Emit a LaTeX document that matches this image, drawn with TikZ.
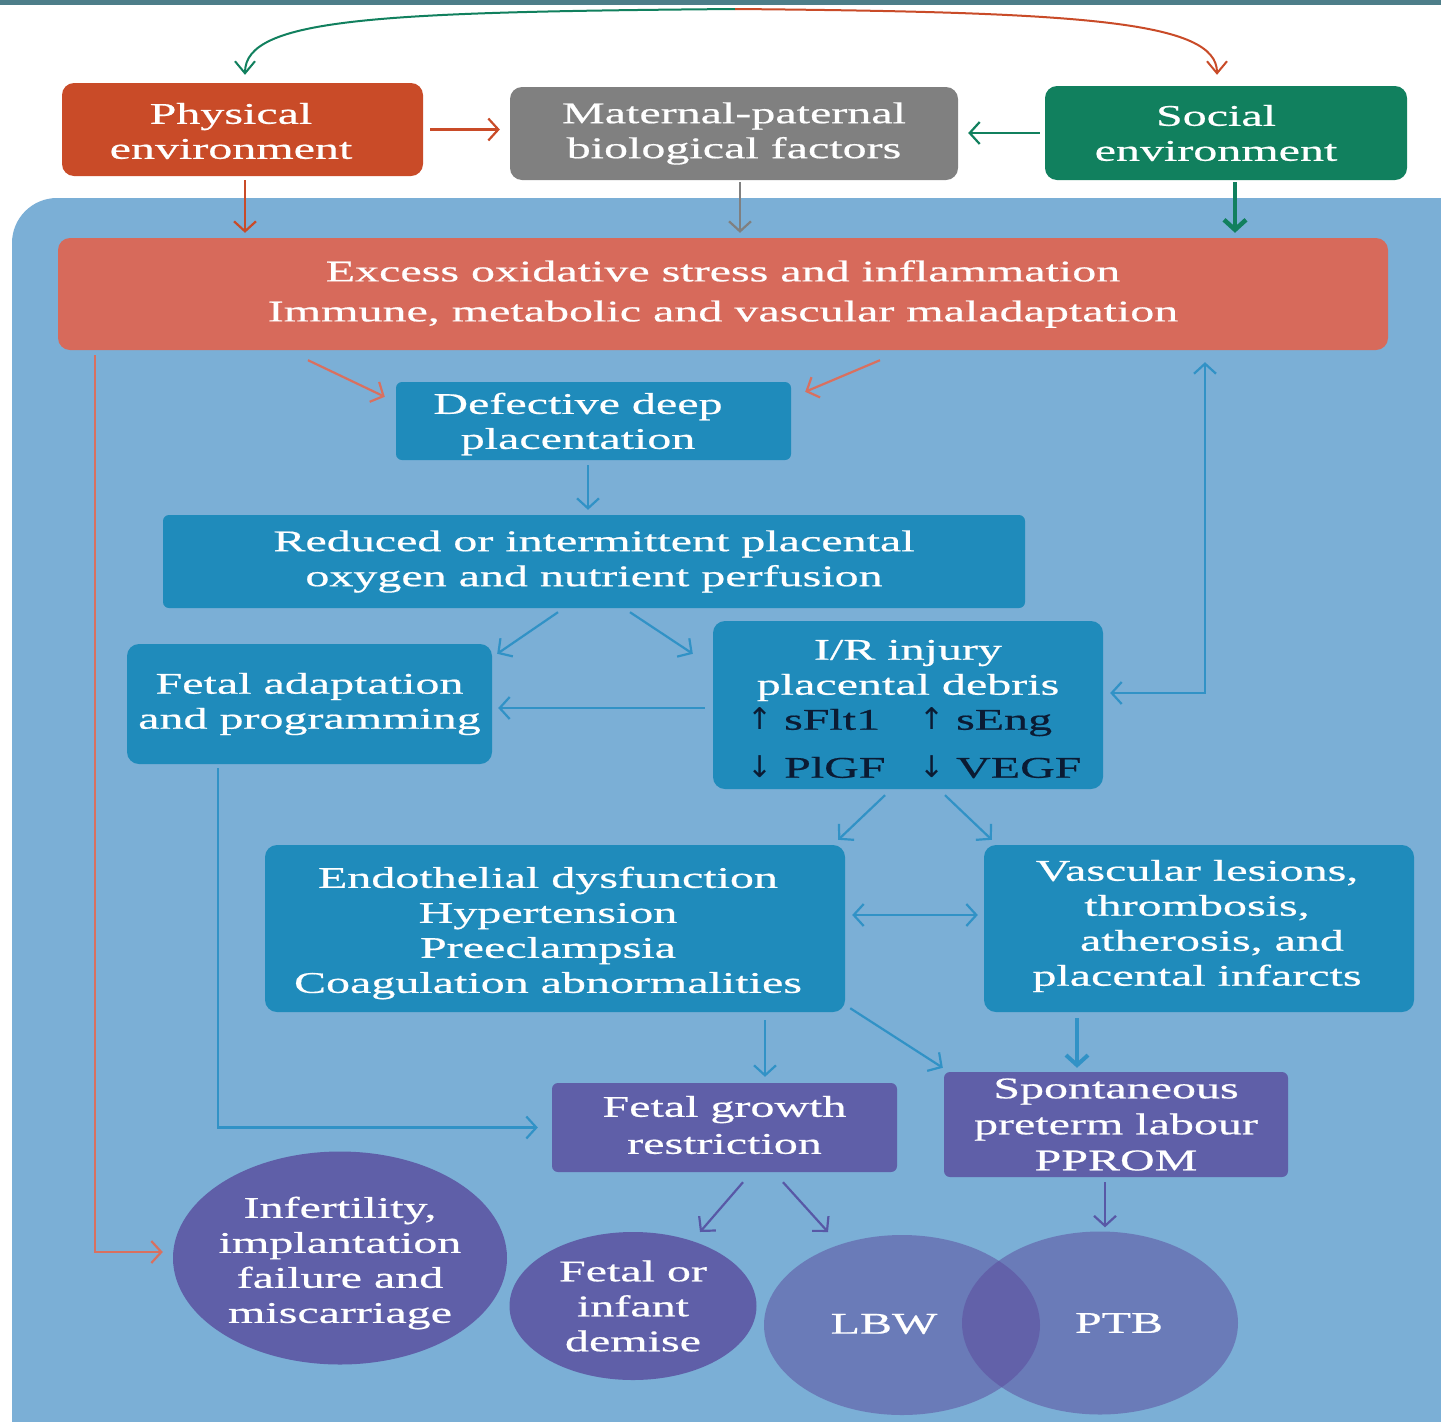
\documentclass[tikz,border=0pt]{standalone}
\usepackage{fontspec}
\setmainfont{Liberation Serif}[FakeStretch=1.6,FakeBold=0.6]
\newfontfamily\arrowfont{DejaVu Sans}
\usetikzlibrary{arrows.meta,calc,shapes.geometric}

\definecolor{topbar}{HTML}{4D7E89}
\definecolor{physred}{HTML}{C94B28}
\definecolor{matgray}{HTML}{808080}
\definecolor{socgreen}{HTML}{11805E}
\definecolor{panelblue}{HTML}{7BAFD6}
\definecolor{excred}{HTML}{D76A5B}
\definecolor{boxblue}{HTML}{1F8BBB}
\definecolor{boxpurple}{HTML}{5F5FA8}
\definecolor{vennpurple}{RGB}{91,72,156}
\definecolor{linkblue}{HTML}{3192C6}
\definecolor{linkred}{HTML}{D9705F}
\definecolor{linkpurple}{HTML}{5858A6}
\definecolor{marker}{HTML}{0B1B33}

\begin{document}
\begin{tikzpicture}[x=1pt,y=-1pt,
  box/.style={rounded corners=12pt, inner sep=0pt, text=white, align=center,
    font=\fontsize{30}{35}\selectfont},
  oval/.style={ellipse, inner sep=0pt, text=white, align=center,
    font=\fontsize{30}{35}\selectfont},
  label/.style={inner sep=0pt, text=white, align=center,
    font=\fontsize{30}{35}\selectfont},
  tip/.style={-{Straight Barb[length=10pt,width=22pt]}},
  link/.style={tip, line width=2.2pt},
  bilink/.style={{Straight Barb[length=10pt,width=22pt]}-{Straight Barb[length=10pt,width=22pt]}, line width=2.2pt},
  arc/.style={-{Straight Barb[length=12pt,width=20pt]}, line width=2pt}
]
\useasboundingbox (0,0) rectangle (1441,1422);
\clip (0,0) rectangle (1441,1422);
\fill[white] (0,0) rectangle (1441,1422);
\fill[topbar] (0,0) rectangle (1441,5);

% large background panel
\fill[panelblue, rounded corners=45pt] (12,198) rectangle (1500,1480);

% outcome circles
\node[oval, fill=vennpurple, fill opacity=0.5,
  minimum width=276pt, minimum height=180pt] (lbw) at (902,1325) {};
\node[oval, fill=vennpurple, fill opacity=0.5,
  minimum width=276pt, minimum height=183pt] (ptb) at (1100,1323) {};
\node[label] (lbwtext) at (884,1324) {LBW};
\node[label] (ptbtext) at (1119,1323) {PTB};
\node[oval, fill=boxpurple, minimum width=334pt, minimum height=213pt] (inf)
  at (340,1258) {};
\node[label] (inftext) at (340,1263) {Infertility,\\implantation\\failure and\\miscarriage};
\node[oval, fill=boxpurple, minimum width=247pt, minimum height=148pt] (fid)
  at (633,1306) {Fetal or\\infant\\demise};

% determinants
\node[box, fill=physred, minimum width=361pt, minimum height=93pt] (phys)
  at (242.5,129.5) {};
\node[label] (phystext) at (231,131) {Physical\\environment};
\node[box, fill=matgray, minimum width=448pt, minimum height=93pt] (mat)
  at (734,133.5) {Maternal-paternal\\biological factors};
\node[box, fill=socgreen, minimum width=362pt, minimum height=94pt] (soc)
  at (1226,133) {};
\node[label] (soctext) at (1216,133) {Social\\environment};

% mechanisms
\node[box, fill=excred, minimum width=1330pt, minimum height=112pt,
  font=\fontsize{30}{40}\selectfont] (exc)
  at (723,294) {Excess oxidative stress and inflammation\\Immune, metabolic and vascular maladaptation};
\node[box, rounded corners=6pt, fill=boxblue, minimum width=395pt, minimum height=78pt] (def)
  at (593.5,421) {};
\node[label] (deftext) at (578,424) {Defective deep\\placentation};
\node[box, rounded corners=6pt, fill=boxblue, minimum width=862pt, minimum height=93pt] (red)
  at (594,561.5) {Reduced or intermittent placental\\oxygen and nutrient perfusion};
\node[box, fill=boxblue, minimum width=365pt, minimum height=120pt] (fad)
  at (309.5,704) {Fetal adaptation\\and programming};
\node[box, fill=boxblue, minimum width=390pt, minimum height=168pt] (ir)
  at (908,705) {};
\node[label] (irtext) at (908,709) {I/R injury\\placental debris\\
  \color{marker}\makebox[172pt][l]{{\arrowfont ↑} sFlt1}\makebox[150pt][l]{{\arrowfont ↑} sEng}\\[13pt]
  \color{marker}\makebox[172pt][l]{{\arrowfont ↓} PlGF}\makebox[150pt][l]{{\arrowfont ↓} VEGF}};
\node[box, fill=boxblue, minimum width=580pt, minimum height=167pt] (end)
  at (555,928.5) {};
\node[label] (endtext) at (548,933) {Endothelial dysfunction\\Hypertension\\Preeclampsia\\Coagulation abnormalities};
\node[box, fill=boxblue, minimum width=430pt, minimum height=167pt] (vas)
  at (1199,928.5) {};
\node[label] (vastext) at (1197,926) {Vascular lesions,\\thrombosis,\\\hspace*{30pt}atherosis, and\\placental infarcts};
\node[box, rounded corners=6pt, fill=boxpurple, minimum width=345pt, minimum height=89pt] (fgr)
  at (724.5,1127.5) {};
\node[label, font=\fontsize{30}{37}\selectfont] (fgrtext) at (724.5,1125) {Fetal growth\\restriction};
\node[box, rounded corners=6pt, fill=boxpurple, minimum width=344pt, minimum height=105pt,
  font=\fontsize{30}{36}\selectfont] (spt)
  at (1116,1124.5) {Spontaneous\\preterm labour\\PPROM};

% arc linking physical and social environment
\coordinate (topmid) at (735,9);
\draw[arc, socgreen] (topmid) .. controls (380,12) and ([xshift=2.5pt,yshift=65pt]phys.north)
  .. ([xshift=2.5pt,yshift=8pt]phys.north);
\draw[arc, physred] (topmid) .. controls (1080,12) and ([xshift=-9pt,yshift=65pt]soc.north)
  .. ([xshift=-9pt,yshift=11pt]soc.north);

% determinant links
\draw[link, physred, shorten <=7pt, shorten >=10pt] (phys.east) -- (phys.east -| mat.west);
\draw[link, socgreen, shorten <=5pt, shorten >=10pt] (soc.west) -- (soc.west -| mat.east);
\draw[link, physred, shorten <=4pt, shorten >=5pt] ([xshift=2.5pt]phys.south) -- ([xshift=2.5pt]phys.south |- exc.north);
\draw[link, matgray, shorten <=2pt, shorten >=5pt] ([xshift=6pt]mat.south) -- ([xshift=6pt]mat.south |- exc.north);
\draw[link, socgreen, line width=4.5pt, shorten <=2pt, shorten >=5pt] ([xshift=9pt]soc.south) -- ([xshift=9pt]soc.south |- exc.north);

% mechanism links
\draw[link, linkred] ([xshift=-415pt,yshift=-10pt]exc.south) -- ([xshift=-11pt,yshift=-15pt]def.north west);
\draw[link, linkred] ([xshift=157pt,yshift=-10pt]exc.south) -- ([xshift=14pt,yshift=-10pt]def.north east);
\draw[link, linkblue, shorten <=5pt, shorten >=5pt] ([xshift=-5.5pt]def.south) -- ([xshift=-5.5pt]def.south |- red.north);
\draw[link, linkblue] ([xshift=-36pt,yshift=-4pt]red.south) -- ([xshift=5pt,yshift=-10pt]fad.north east);
\draw[link, linkblue] ([xshift=36pt,yshift=-4pt]red.south) -- ([xshift=-20pt,yshift=-33pt]ir.north west);
\draw[link, linkblue, shorten <=8pt, shorten >=6pt] ([yshift=-3pt]ir.west) -- ([yshift=-3pt]ir.west -| fad.east);
\draw[bilink, linkblue] ([xshift=7pt,yshift=12pt]ir.east) -| ([xshift=482pt,yshift=-12pt]exc.south);
\draw[link, linkblue] ([xshift=-23pt,yshift=-6pt]ir.south) -- ([xshift=-7pt,yshift=5pt]end.north east);
\draw[link, linkblue] ([xshift=37pt,yshift=-6pt]ir.south) -- ([xshift=8pt,yshift=5pt]vas.north west);
\draw[bilink, linkblue, shorten <=7pt, shorten >=6pt] ([yshift=13.5pt]end.east) -- ([yshift=13.5pt]vas.west);
\draw[link, linkblue, shorten <=8pt, shorten >=6pt] ([xshift=210pt]end.south) -- ([xshift=210pt]end.south |- fgr.north);
\draw[link, linkblue] ([xshift=5pt,yshift=4pt]end.south east) -- ([xshift=-1pt,yshift=4pt]spt.north west);
\draw[link, linkblue, line width=4pt, shorten <=6pt, shorten >=4pt] ([xshift=-122pt]vas.south) -- ([xshift=-122pt]vas.south |- spt.north);
\draw[link, linkblue, shorten >=14pt] ([xshift=-91.5pt,yshift=-4pt]fad.south) |- (fgr.west);
\draw[link, linkred, shorten >=5pt] ([xshift=37pt,yshift=-5pt]exc.south west) |- ([xshift=-5pt,yshift=6pt]inf.west);

% outcome links
\draw[link, linkpurple] ([xshift=18.5pt,yshift=-10pt]fgr.south) -- ([xshift=67pt,yshift=74pt]fid.center);
\draw[link, linkpurple] ([xshift=58.5pt,yshift=-10pt]fgr.south) -- ([xshift=-74pt,yshift=93pt]lbw.center);
\draw[link, linkpurple, shorten <=5pt, shorten >=4pt] ([xshift=-11pt]spt.south) -- ([xshift=-11pt]spt.south |- ptb.north);
\end{tikzpicture}
\end{document}
